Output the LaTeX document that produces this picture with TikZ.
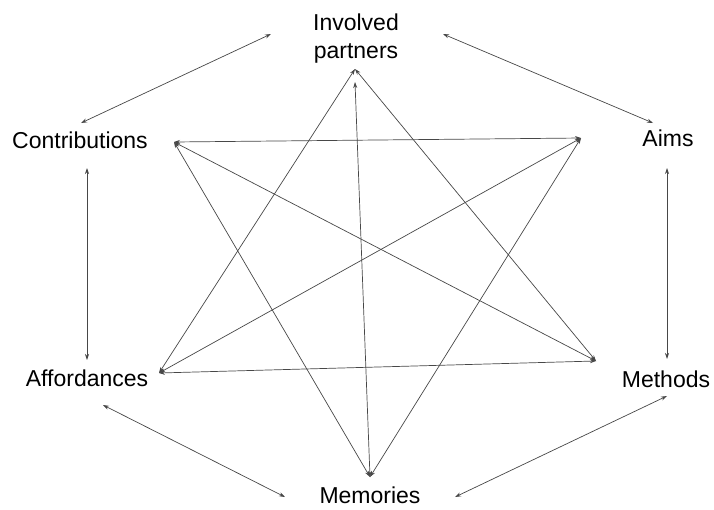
\documentclass[tikz,border=0pt]{standalone}
\usepackage{fontspec}
\setmainfont{Liberation Sans}
\usetikzlibrary{arrows.meta}
\begin{document}
\begin{tikzpicture}[x=1pt,y=-1pt,
  lbl/.style={font=\fontsize{23}{28}\selectfont, inner sep=0pt, anchor=base},
  link/.style={draw=black!72, line width=0.7pt,
    {Stealth[length=6pt,width=4pt]}-{Stealth[length=6pt,width=4pt]}}]
\useasboundingbox (0,0) rectangle (714,509);
% labels
\node[lbl] (inv) at (356,30) {Involved};
\node[lbl] (par) at (356,58) {partners};
\node[lbl] (con) at (80,148) {Contributions};
\node[lbl] (aim) at (668,146) {Aims};
\node[lbl] (aff) at (87,386) {Affordances};
\node[lbl] (met) at (666,387) {Methods};
\node[lbl] (mem) at (370,503) {Memories};
% inner hexagon points
\coordinate (P) at (355,69);
\coordinate (Pv) at (355,82);
\coordinate (C) at (174,142);
\coordinate (A) at (581,138);
\coordinate (F) at (159,373);
\coordinate (M) at (596,361);
\coordinate (E) at (370,477);
% outer arrow ends
\coordinate (o1a) at (271,34);  \coordinate (o1b) at (81,123);
\coordinate (o2a) at (443,34);  \coordinate (o2b) at (653,123);
\coordinate (o3a) at (87,168);  \coordinate (o3b) at (87,360);
\coordinate (o4a) at (667,168); \coordinate (o4b) at (667,359);
\coordinate (o5a) at (103,405); \coordinate (o5b) at (285,497);
\coordinate (o6a) at (455,497); \coordinate (o6b) at (667,396);
% outer arrows
\draw[link] (o1a) -- (o1b);
\draw[link] (o2a) -- (o2b);
\draw[link] (o3a) -- (o3b);
\draw[link] (o4a) -- (o4b);
\draw[link] (o5a) -- (o5b);
\draw[link] (o6a) -- (o6b);
% inner diagonals
\draw[link] (C) -- (A);
\draw[link] (F) -- (M);
\draw[link] (P) -- (F);
\draw[link] (P) -- (M);
\draw[link] (C) -- (E);
\draw[link] (A) -- (E);
\draw[link] (Pv) -- (E);
\draw[link] (C) -- (M);
\draw[link] (A) -- (F);
\end{tikzpicture}
\end{document}
